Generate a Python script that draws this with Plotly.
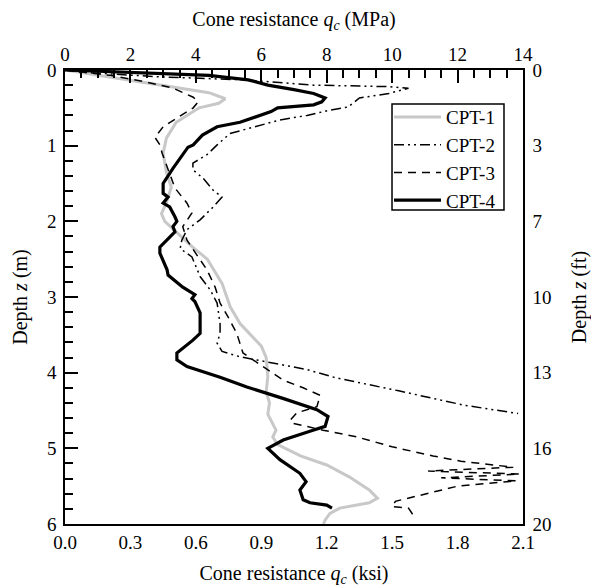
import plotly.graph_objects as go

# ---------------- data (q in MPa, z in m) ----------------
cpt1_q = [0.0, 0.3, 1.5, 2.9, 4.4, 4.9, 4.7, 4.1, 3.4, 3.1, 3.0, 3.1, 3.25, 3.1, 2.95, 3.05, 3.4, 3.9, 4.35,
          4.8, 5.05, 5.35, 6.0, 6.15, 6.2, 6.15, 6.25, 6.2, 6.45, 6.35, 6.5, 7.2, 8.0, 8.7, 9.3, 9.55, 9.3,
          8.4, 8.1, 7.95, 7.9]
cpt1_z = [0.0, 0.02, 0.1, 0.2, 0.3, 0.38, 0.44, 0.5, 0.69, 0.9, 1.1, 1.35, 1.55, 1.75, 1.9, 2.0, 2.14, 2.34, 2.5,
          2.82, 3.13, 3.35, 3.65, 3.8, 4.05, 4.25, 4.4, 4.55, 4.76, 4.85, 4.95, 5.1, 5.22, 5.38, 5.55, 5.66, 5.72,
          5.79, 5.86, 5.95, 6.0]

cpt2_q = [0.0, 0.5, 2.9, 5.44, 7.6, 9.9, 10.5, 9.9, 9.0, 8.65, 8.1, 7.4, 6.57, 5.96, 5.04, 4.65, 4.34, 3.91,
          3.91, 4.22, 4.53, 4.8, 4.53, 4.13, 3.73, 3.57, 3.52, 3.88, 4.13, 4.43, 4.65, 4.74, 4.74, 4.65, 4.8,
          5.35, 6.36, 7.4, 8.3, 10.2, 12.2, 13.85]
cpt2_z = [0.0, 0.03, 0.09, 0.13, 0.2, 0.22, 0.24, 0.31, 0.37, 0.49, 0.53, 0.6, 0.66, 0.73, 0.84, 0.99, 1.12, 1.23,
          1.32, 1.43, 1.59, 1.68, 1.81, 1.98, 2.11, 2.25, 2.36, 2.47, 2.73, 2.9, 3.08, 3.35, 3.48, 3.61, 3.72,
          3.79, 3.87, 3.96, 4.07, 4.24, 4.43, 4.54]

cpt3_q = [0.0, 1.38, 2.5, 3.3, 3.92, 4.07, 3.92, 3.42, 3.0, 2.75, 2.9, 2.97, 3.21, 3.36, 3.73, 3.88, 3.6, 3.73,
          4.07, 4.34, 4.59, 4.74, 4.98, 5.25, 5.44, 5.87, 6.67, 7.28, 7.8, 7.7, 7.09, 6.88, 6.97, 7.89, 8.93,
          10.0, 11.25, 12.1, 13.7, 11.1, 13.9, 11.5, 13.8, 12.0, 10.1, 10.0, 10.5, 10.7]
cpt3_z = [0.0, 0.07, 0.16, 0.24, 0.36, 0.42, 0.5, 0.63, 0.75, 0.89, 0.99, 1.1, 1.4, 1.56, 1.76, 1.89, 2.07, 2.25,
          2.47, 2.64, 2.87, 3.08, 3.26, 3.48, 3.74, 3.87, 4.1, 4.2, 4.3, 4.45, 4.53, 4.63, 4.67, 4.76, 4.85,
          4.98, 5.1, 5.17, 5.25, 5.30, 5.34, 5.39, 5.43, 5.5, 5.7, 5.77, 5.79, 5.92]

cpt4_q = [0.0, 2.0, 4.4, 5.6, 6.2, 7.0, 7.6, 7.95, 7.85, 7.6, 6.5, 6.3, 5.35, 4.65, 4.2, 3.92, 3.76, 3.3, 3.0,
          3.0, 3.15, 3.0, 3.2, 3.36, 3.42, 3.3, 3.36, 2.9, 2.9, 3.12, 3.15, 3.6, 3.97, 3.88, 3.97, 4.13, 4.13,
          3.91, 3.42, 3.42, 3.73, 4.74, 5.56, 6.66, 7.7, 8.04, 7.95, 7.58, 6.67, 6.2, 6.57, 7.18, 7.37, 7.18,
          7.28, 7.49, 8.0, 8.16]
cpt4_z = [0.0, 0.03, 0.07, 0.13, 0.2, 0.26, 0.31, 0.37, 0.42, 0.46, 0.5, 0.55, 0.69, 0.75, 0.86, 0.99, 1.02, 1.3,
          1.5, 1.63, 1.68, 1.76, 1.81, 1.94, 2.0, 2.07, 2.14, 2.34, 2.42, 2.64, 2.71, 2.87, 2.97, 3.02, 3.06,
          3.21, 3.48, 3.57, 3.74, 3.83, 3.92, 4.06, 4.19, 4.34, 4.49, 4.58, 4.71, 4.76, 4.89, 5.0, 5.15, 5.33,
          5.44, 5.55, 5.68, 5.72, 5.75, 5.79]

depth_m_ticks = [0, 1, 2, 3, 4, 5, 6]
depth_ft_labels = ["0", "3", "7", "10", "13", "16", "20"]

FONT = "Times New Roman, Liberation Serif, DejaVu Serif, serif"
FS = 19
TFS = 20

fig = go.Figure()
series = [
    ("CPT-1", cpt1_q, cpt1_z, dict(color="#c8c8c8", width=3)),
    ("CPT-2", cpt2_q, cpt2_z, dict(color="black", width=1.5, dash="10px,4px,2px,4px,2px,4px")),
    ("CPT-3", cpt3_q, cpt3_z, dict(color="black", width=1.5, dash="8px,6px")),
    ("CPT-4", cpt4_q, cpt4_z, dict(color="black", width=3.2)),
]
for name, q, z, ln in series:
    fig.add_trace(go.Scatter(x=q, y=z, name=name, mode="lines", line=ln,
                             xaxis="x2", yaxis="y"))

# invisible trace anchoring the bottom (ksi) and right (ft) axes
fig.add_trace(go.Scatter(x=[0], y=[0], xaxis="x", yaxis="y2", mode="markers",
                         marker=dict(opacity=0), showlegend=False, hoverinfo="skip"))

axcommon = dict(showgrid=False, zeroline=False, showline=True, linecolor="black", linewidth=1.5,
                ticks="inside", ticklen=13, tickwidth=1.5, tickcolor="black", automargin=False,
                tickfont=dict(family=FONT, size=FS, color="black"))
minor_style = dict(ticks="inside", ticklen=8, tickwidth=1.5, tickcolor="black")
title_font = dict(family=FONT, size=TFS, color="black")

fig.update_layout(
    width=591, height=587,
    margin=dict(l=65, r=68, t=70, b=63, autoexpand=False),
    paper_bgcolor="white", plot_bgcolor="white",
    font=dict(family=FONT, size=FS, color="black"),
    xaxis=dict(range=[0, 2.1], dtick=0.3, tick0=0, tickformat=".1f", side="bottom", anchor="y2",
               minor=dict(dtick=0.075, **minor_style),
               title=dict(text="Cone resistance <i>q<sub>c</sub></i> (ksi)", font=title_font, standoff=16),
               **axcommon),
    xaxis2=dict(range=[0, 14], dtick=2, tick0=0, side="top", overlaying="x", anchor="y",
                minor=dict(dtick=0.5, **minor_style), ticklabelstandoff=0,
                title=dict(text="Cone resistance <i>q<sub>c</sub></i> (MPa)", font=title_font, standoff=12),
                **axcommon),
    yaxis=dict(range=[6, 0], tickvals=depth_m_ticks, side="left", anchor="x2",
               minor=dict(dtick=0.2, **minor_style), ticklabelstandoff=3,
               title=dict(text="Depth <i>z</i> (m)", font=title_font, standoff=14),
               **axcommon),
    yaxis2=dict(range=[6, 0], tickvals=depth_m_ticks, ticktext=depth_ft_labels, side="right",
                overlaying="y", anchor="x", ticklabelstandoff=4,
                minor=dict(dtick=0.2, **minor_style),
                title=dict(text="Depth <i>z</i> (ft)", font=title_font, standoff=24),
                **axcommon),
    legend=dict(x=0.7074, y=0.938, xanchor="left", yanchor="top", bgcolor="rgba(0,0,0,0)",
                borderwidth=0, itemwidth=47,
                font=dict(family=FONT, size=FS), tracegroupgap=0),
    showlegend=True,
    shapes=[dict(type="rect", xref="paper", yref="paper", x0=0.714, x1=0.9585, y0=0.6916, y1=0.9251,
                 line=dict(color="black", width=1.5), fillcolor="rgba(0,0,0,0)", layer="above")],
)

fig.write_html("out.html")
